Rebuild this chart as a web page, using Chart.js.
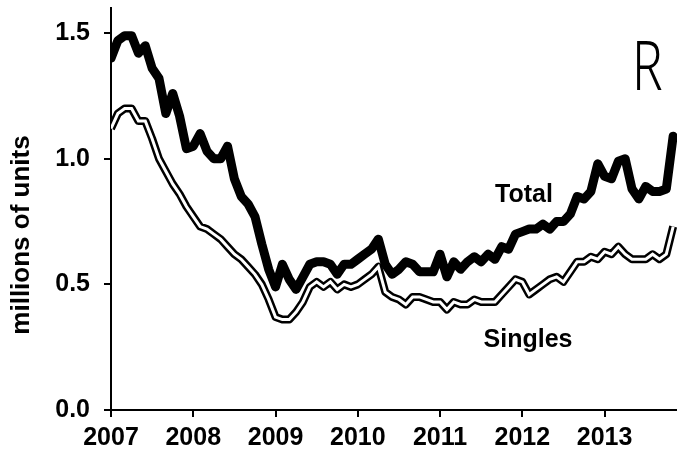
<!DOCTYPE html>
<html>
<head>
<meta charset="utf-8">
<script src="https://cdn.jsdelivr.net/npm/chart.js@4"></script>
<style>
html, body { margin: 0; padding: 0; background: #fff; }
</style>
</head>
<body>
<canvas id="myChart" width="677" height="453"></canvas>
<script>
// Monthly series, Jan 2007 - Nov 2013 (millions of units)
const years = [2007, 2008, 2009, 2010, 2011, 2012, 2013];
const yTicks = [0, 0.5, 1.0, 1.5];
const totalValues = [
    1.40, 1.47, 1.49, 1.49, 1.42, 1.45, 1.36, 1.32, 1.18, 1.26, 1.17, 1.04,
    1.05, 1.10, 1.03, 1.00, 1.00, 1.05, 0.92, 0.85, 0.82, 0.77, 0.66, 0.56,
    0.49, 0.58, 0.52, 0.48, 0.53, 0.58, 0.59, 0.59, 0.58, 0.54, 0.58, 0.58,
    0.60, 0.62, 0.64, 0.68, 0.58, 0.54, 0.56, 0.59, 0.58, 0.55, 0.55, 0.55,
    0.62, 0.53, 0.59, 0.56, 0.59, 0.61, 0.59, 0.62, 0.60, 0.65, 0.64, 0.70,
    0.71, 0.72, 0.72, 0.74, 0.72, 0.75, 0.75, 0.78, 0.85, 0.84, 0.87, 0.98,
    0.93, 0.92, 0.99, 1.00, 0.88, 0.84, 0.89, 0.87, 0.87, 0.88, 1.09
];
const singlesValues = [
    1.12, 1.18, 1.20, 1.20, 1.15, 1.15, 1.08, 1.00, 0.95, 0.90, 0.86, 0.81,
    0.77, 0.73, 0.72, 0.70, 0.68, 0.65, 0.62, 0.60, 0.57, 0.54, 0.50, 0.44,
    0.37, 0.36, 0.36, 0.39, 0.43, 0.49, 0.51, 0.49, 0.51, 0.48, 0.50, 0.49,
    0.50, 0.52, 0.54, 0.57, 0.47, 0.45, 0.44, 0.42, 0.45, 0.45, 0.44, 0.43,
    0.43, 0.40, 0.43, 0.42, 0.42, 0.44, 0.43, 0.43, 0.43, 0.46, 0.49, 0.52,
    0.51, 0.46, 0.48, 0.50, 0.52, 0.53, 0.51, 0.55, 0.59, 0.59, 0.61, 0.60,
    0.63, 0.62, 0.65, 0.62, 0.60, 0.60, 0.60, 0.62, 0.60, 0.62, 0.73
];

function toPoints(values) {
    return values.map((v, i) => ({ x: years[0] + i / 12, y: v }));
}

const FONT = "'Liberation Sans', Arial, sans-serif";

// texts drawn on the plot: series names, y title, pencil mark
const annotations = {
    id: 'annotations',
    afterDraw(chart) {
        const ctx = chart.ctx;
        ctx.save();
        ctx.fillStyle = '#000';
        ctx.font = 'bold 25px ' + FONT;
        ctx.textAlign = 'center';
        ctx.textBaseline = 'alphabetic';
        ctx.fillText('Total', 524, 202);
        ctx.fillText('Singles', 528, 347);
        // y axis title
        ctx.save();
        ctx.translate(22, 235);
        ctx.rotate(-Math.PI / 2);
        ctx.textBaseline = 'middle';
        ctx.font = 'bold 26px ' + FONT;
        ctx.fillText('millions of units', 0, 0);
        ctx.restore();
        // hand written mark
        ctx.save();
        ctx.translate(632, 90);
        ctx.scale(0.75, 1);
        ctx.font = '300 68px "Noto Sans"';
        ctx.textAlign = 'left';
        ctx.fillText('R', 0, 0);
        ctx.restore();
        ctx.restore();
    }
};

new Chart(document.getElementById('myChart'), {
    type: 'line',
    data: {
        datasets: [
            {
                label: 'Singles',
                data: toPoints(singlesValues),
                borderColor: '#fff',
                borderWidth: 3,
                pointRadius: 0,
                tension: 0
            },
            {
                label: 'Singles outline',
                data: toPoints(singlesValues),
                borderColor: '#000',
                borderWidth: 8,
                pointRadius: 0,
                tension: 0,
                borderJoinStyle: 'round'
            },
            {
                label: 'Total',
                data: toPoints(totalValues),
                borderColor: '#000',
                borderWidth: 9,
                pointRadius: 0,
                tension: 0,
                borderJoinStyle: 'round',
                borderCapStyle: 'round'
            }
        ]
    },
    options: {
        responsive: false,
        animation: false,
        devicePixelRatio: 1,
        layout: { padding: { top: 8, left: 0, right: 0, bottom: 0 } },
        plugins: {
            legend: { display: false },
            tooltip: { enabled: false }
        },
        scales: {
            x: {
                type: 'linear',
                min: 2007,
                max: 2013.88,
                afterBuildTicks: scale => { scale.ticks = years.map(v => ({ value: v })); },
                afterFit: scale => {
                    scale.height = 43;
                    scale.paddingRight = 0;
                },
                border: { display: true, color: '#000', width: 2 },
                grid: { drawOnChartArea: false, drawTicks: true, tickLength: 7, color: '#000', lineWidth: 2 },
                ticks: {
                    color: '#000',
                    padding: 6,
                    maxRotation: 0,
                    autoSkip: false,
                    font: { family: FONT, size: 25, weight: 'bold' },
                    callback: v => String(v)
                }
            },
            y: {
                min: 0,
                max: 1.6,
                afterBuildTicks: scale => { scale.ticks = yTicks.map(v => ({ value: v })); },
                afterFit: scale => {
                    scale.width = 111;
                    scale.paddingTop = 0;
                    scale.paddingBottom = 0;
                },
                border: { display: true, color: '#000', width: 2 },
                grid: { drawOnChartArea: false, drawTicks: true, tickLength: 7, color: '#000', lineWidth: 2 },
                ticks: {
                    color: '#000',
                    padding: 14,
                    font: { family: FONT, size: 25, weight: 'bold' },
                    callback: v => v.toFixed(1)
                }
            }
        }
    },
    plugins: [annotations]
});
</script>
</body>
</html>
